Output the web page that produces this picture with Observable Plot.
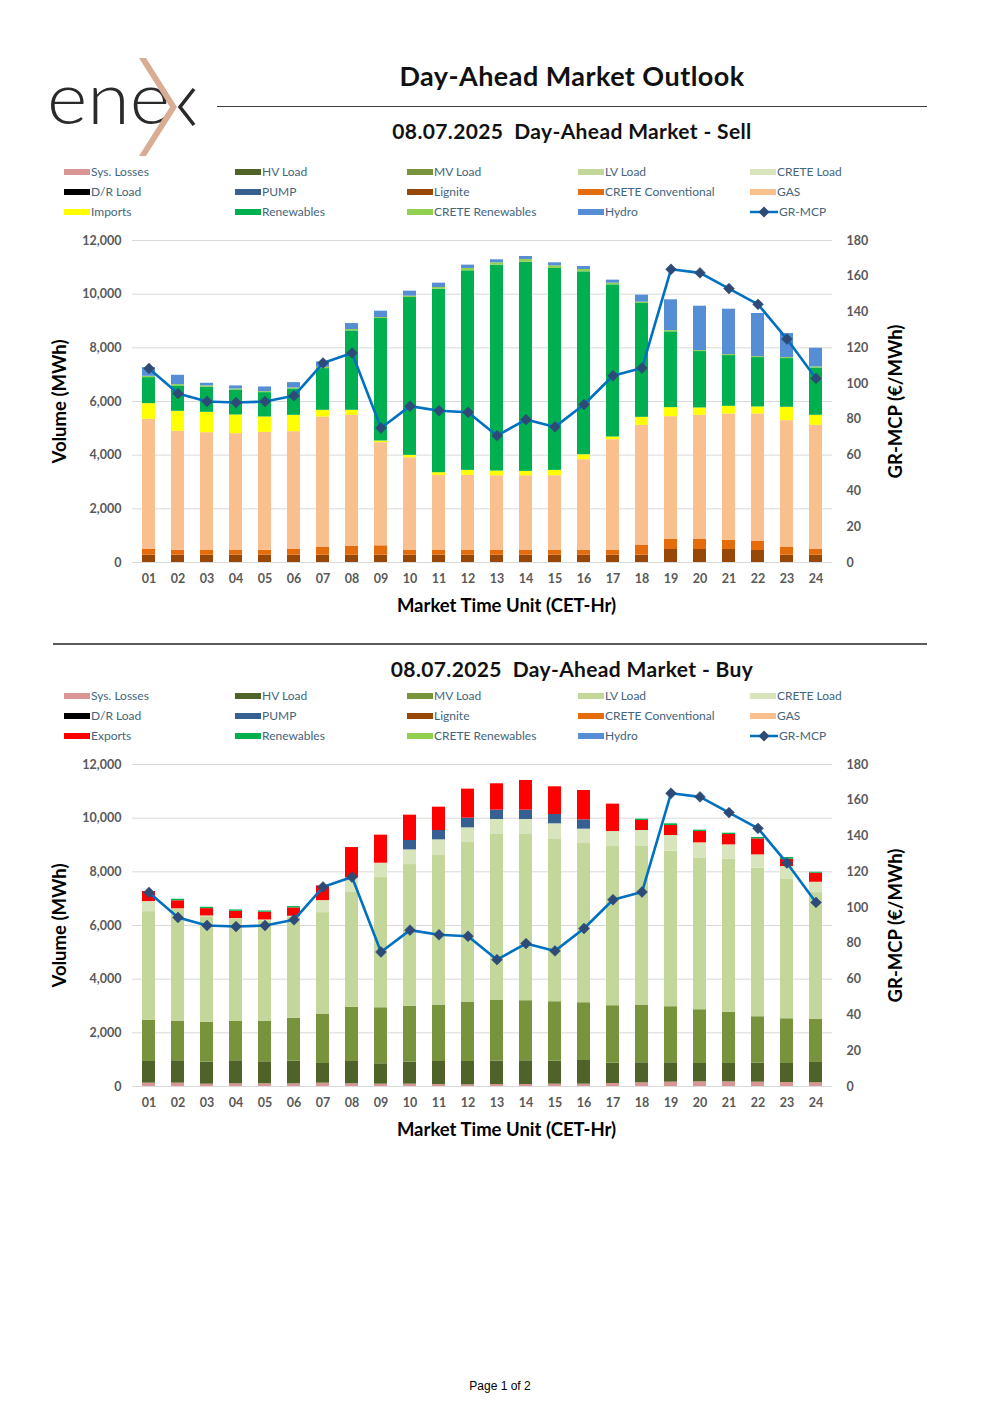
<!DOCTYPE html>
<html><head><meta charset="utf-8">
<script src="https://cdn.jsdelivr.net/npm/d3@7"></script>
<script src="https://cdn.jsdelivr.net/npm/@observablehq/plot@0.6"></script>
<style>
body{margin:0;background:#fff;}
#page{position:relative;width:1000px;height:1415px;font-family:Lato,"Open Sans",sans-serif;overflow:hidden;}
.abs{position:absolute;}
.ttl{position:absolute;left:217px;width:710px;text-align:center;font-weight:bold;color:#111;white-space:pre;}
.leg{position:absolute;font-size:12px;color:#44657A;white-space:nowrap;line-height:16px;height:16px;}
.sw{display:inline-block;width:26px;height:6px;vertical-align:middle;margin-right:1px;position:relative;top:-1px;}
</style></head><body><div id="page"></div>
<script>
// ---------- data ----------
const hours = ["01","02","03","04","05","06","07","08","09","10","11","12","13","14","15","16","17","18","19","20","21","22","23","24"];
const mcp = [108.5,94.5,90.0,89.4,90.0,93.2,111.5,117.1,75.2,87.4,84.8,84.0,70.9,79.9,75.8,88.3,104.4,108.7,163.9,161.9,153.1,144.3,124.9,102.9];

// Sell side (MWh)
const lignite    = [274,274,274,274,274,274,274,274,274,274,274,274,274,274,274,274,274,274,485,485,485,448,274,274];
const creteConv  = [211,186,174,174,186,211,286,335,348,174,174,174,174,174,174,174,174,360,373,373,348,336,286,211];
const gas        = [4851,4428,4390,4353,4391,4391,4863,4876,3843,3457,2798,2798,2786,2786,2786,3383,4129,4478,4577,4627,4702,4751,4726,4627];
const imports    = [584,746,759,696,572,609,249,187,62,88,100,187,174,162,199,186,100,298,336,274,286,261,498,373];
const renewables = [970,946,933,933,908,983,1554,2960,4565,5883,6841,7438,7674,7798,7525,6816,5671,4242,2824,2102,1890,1841,1816,1766];
const creteRen   = [50,50,50,38,37,37,50,50,37,49,62,87,87,100,99,87,62,49,49,37,38,37,37,38];
const hydro      = [324,348,99,112,174,199,199,223,237,187,161,124,112,111,112,112,112,262,1145,1654,1691,1605,895,696];

// Buy side (MWh)
const sysLosses  = [124,124,87,100,100,100,124,100,87,87,75,62,75,75,87,87,112,137,162,174,174,162,149,137];
const hvLoad     = [809,834,821,858,820,845,734,833,759,821,858,871,870,883,858,883,759,746,721,684,684,709,709,759];
const mvLoad     = [1530,1480,1480,1467,1505,1592,1841,2015,2089,2077,2102,2214,2276,2239,2214,2152,2139,2152,2090,2003,1903,1729,1667,1604];
const lvLoad     = [4054,4154,3938,3800,3750,3776,3781,4303,4851,5286,5597,5945,6170,6194,6070,5933,5933,5933,5796,5659,5709,5534,5211,4726];
const creteLoad  = [374,30,30,31,31,30,448,523,535,547,560,547,559,559,560,535,559,572,584,560,535,498,461,386];
const pump       = [0,0,0,0,0,0,0,0,0,349,348,361,349,349,348,348,0,0,0,0,0,0,0,0];
const exportsArr = [373,300,273,274,290,311,547,1131,1045,945,870,1082,982,1106,1032,1094,1020,373,373,422,386,597,273,336];
const buyRenew   = [0,56,50,50,46,50,0,0,0,0,0,0,0,0,0,0,0,50,63,50,49,50,62,37];

const volTicks = [0,2000,4000,6000,8000,10000,12000];
const priceTicks = [0,20,40,60,80,100,120,140,160,180];

const sellLegend = ["Sys. Losses","HV Load","MV Load","LV Load","CRETE Load","D/R Load","PUMP","Lignite","CRETE Conventional","GAS","Imports","Renewables","CRETE Renewables","Hydro","GR-MCP"];
const buyLegend  = ["Sys. Losses","HV Load","MV Load","LV Load","CRETE Load","D/R Load","PUMP","Lignite","CRETE Conventional","GAS","Exports","Renewables","CRETE Renewables","Hydro","GR-MCP"];

const colors = {
  "Sys. Losses":"#DA9694","HV Load":"#4F6228","MV Load":"#77933C","LV Load":"#C4D79B","CRETE Load":"#D8E4BC",
  "D/R Load":"#000000","PUMP":"#366092","Lignite":"#974706","CRETE Conventional":"#E46C0A","GAS":"#FABF8F",
  "Imports":"#FFFF00","Exports":"#FF0000","Renewables":"#00B050","CRETE Renewables":"#92D050","Hydro":"#558ED5"
};

const sellSeries = [["Lignite",lignite],["CRETE Conventional",creteConv],["GAS",gas],["Imports",imports],["Renewables",renewables],["CRETE Renewables",creteRen],["Hydro",hydro]];
const buySeries  = [["Sys. Losses",sysLosses],["HV Load",hvLoad],["MV Load",mvLoad],["LV Load",lvLoad],["CRETE Load",creteLoad],["PUMP",pump],["Exports",exportsArr],["Renewables",buyRenew]];

// ---------- layout ----------
const page = document.getElementById("page");
function addDiv(cls, style, html){const d=document.createElement("div");d.className=cls;d.setAttribute("style",style);d.innerHTML=html;page.appendChild(d);return d;}

// logo
addDiv("abs","left:0;top:0;",
 `<svg width="220" height="170" xmlns="http://www.w3.org/2000/svg">
   <text x="47" y="124" font-family="Lato, 'Open Sans', sans-serif" font-weight="300" font-size="72" fill="#2a2a2a" textLength="123" lengthAdjust="spacingAndGlyphs">ene</text>
   <path d="M194,89 L180,107 L194,125" fill="none" stroke="#2a2a2a" stroke-width="3.6"/>
   <path d="M139,58 L146,58 L177,107 L146,156 L139,156 L170,107 Z" fill="#D9AC94"/>
 </svg>`);

addDiv("ttl","top:60px;font-size:27px;line-height:32px;letter-spacing:0.45px;","Day-Ahead Market Outlook");
addDiv("abs","left:217px;top:105.5px;width:710px;height:1.5px;background:#404040;","");
addDiv("ttl","top:118px;font-size:21px;line-height:26px;letter-spacing:0.36px;","08.07.2025  Day-Ahead Market - Sell");
addDiv("abs","left:53px;top:643px;width:874px;height:2px;background:#5a5a5a;","");
addDiv("ttl","top:656px;font-size:21px;line-height:26px;letter-spacing:0.36px;","08.07.2025  Day-Ahead Market - Buy");
addDiv("abs","left:0;top:1379px;width:1000px;text-align:center;font-family:'Liberation Sans',Arial,sans-serif;font-size:12px;color:#000;","Page 1 of 2");

const legCols = [64,235,407,578,750];
function makeLegend(names, top){
  names.forEach((n,i)=>{
    const col = i%5, row = Math.floor(i/5);
    const x = legCols[col], y = top + row*20 - 8;
    let sw;
    if(n==="GR-MCP"){
      sw = `<svg width="28" height="12" style="vertical-align:middle;position:relative;top:-1px;margin-right:1px"><line x1="0" y1="6" x2="28" y2="6" stroke="#0070C0" stroke-width="2.5"/><path d="M14,0.5 L19.5,6 L14,11.5 L8.5,6 Z" fill="#2E4A76"/></svg>`;
    } else {
      sw = `<span class="sw" style="background:${colors[n]}"></span>`;
    }
    addDiv("leg",`left:${x}px;top:${y}px;`, sw + n);
  });
}
makeLegend(sellLegend, 172);
makeLegend(buyLegend, 696);

const k = 12000/180;
function makeChart(series, top){
  const names = series.map(s=>s[0]);
  const rows = [];
  series.forEach(([name, vals])=>vals.forEach((v,i)=>rows.push({hour:hours[i], series:name, value:v})));
  const svg = Plot.plot({
    width:1000, height:400,
    marginLeft:132, marginRight:168, marginTop:15, marginBottom:63,
    x:{domain:hours, paddingInner:0.565, paddingOuter:0.2825},
    y:{domain:[0,12000]},
    color:{domain:names, range:names.map(n=>colors[n])},
    style:{fontFamily:"Lato, 'Open Sans', sans-serif", fontSize:"12.5px", fontWeight:"bold", color:"#595959", background:"transparent"},
    marks:[
      Plot.gridY(volTicks,{stroke:"#D9D9D9", strokeOpacity:1, strokeWidth:1}),
      Plot.barY(rows, Plot.stackY({x:"hour", y:"value", fill:"series", order:names})),
      Plot.line(hours,{x:d=>d, y:(d,i)=>mcp[i]*k, stroke:"#0070C0", strokeWidth:2.6}),
      Plot.dot(hours,{x:d=>d, y:(d,i)=>mcp[i]*k, symbol:"diamond2", r:4.9, fill:"#2E4A76", stroke:"#2E4A76", strokeWidth:0.5}),
      Plot.axisX({tickSize:0, tickPadding:12, label:null}),
      Plot.axisY(volTicks,{tickSize:0, tickPadding:11, tickFormat:d3.format(","), label:null}),
      Plot.axisY(priceTicks.map(v=>v*k),{anchor:"right", tickSize:0, tickPadding:14, tickFormat:d=>String(Math.round(d/k)), label:null}),
      Plot.text(["Volume (MWh)"],{text:d=>d, frameAnchor:"left", textAnchor:"middle", lineAnchor:"middle", dx:-72, rotate:-90, fontSize:18.5, fontWeight:"bold", fill:"#000"}),
      Plot.text(["GR-MCP (€/MWh)"],{text:d=>d, frameAnchor:"right", textAnchor:"middle", lineAnchor:"middle", dx:64, rotate:-90, fontSize:18.5, fontWeight:"bold", fill:"#000"}),
      Plot.text(["Market Time Unit (CET-Hr)"],{text:d=>d, frameAnchor:"bottom", textAnchor:"middle", lineAnchor:"middle", dx:24, dy:44, fontSize:18.5, fontWeight:"bold", fill:"#000"})
    ]
  });
  const wrap = addDiv("abs",`left:0;top:${top}px;`,"");
  wrap.appendChild(svg);
}
makeChart(sellSeries, 225);
makeChart(buySeries, 749);
</script></body></html>
